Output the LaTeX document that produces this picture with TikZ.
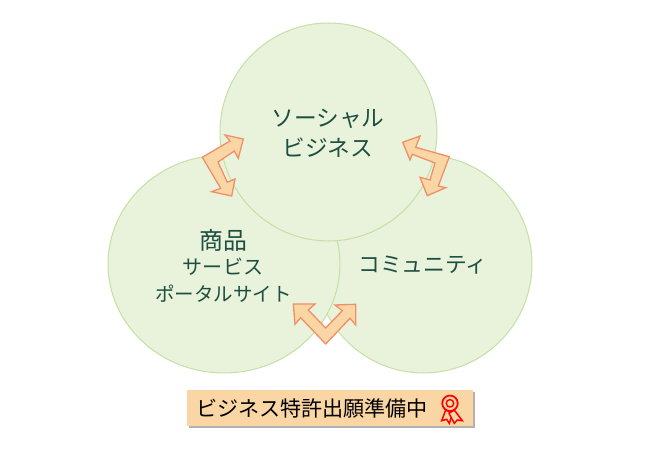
\documentclass[tikz,border=0pt]{standalone}
\usepackage{fontspec}
\setmainfont{Noto Sans CJK JP}
\usetikzlibrary{arrows, arrows.meta}
\usetikzlibrary{shapes.geometric}
\usetikzlibrary{shadows}
\definecolor{leaf}{HTML}{E9F3DB}
\definecolor{leafline}{HTML}{C6E0A8}
\definecolor{ink}{HTML}{1D4F40}
\definecolor{peach}{HTML}{FBD6A5}
\definecolor{peachline}{HTML}{F0906A}
\tikzset{
  topic/.style={ellipse, draw=leafline, fill=leaf, line width=0.6pt, inner sep=0pt},
  topictext/.style={text=ink, inner sep=0pt},
  bentarrow/.style={draw=peachline, fill=peach, line width=0.75pt, line join=miter},
  ribbon/.style={draw=red, line width=0.85pt, fill=peach},
}

\begin{document}
\begin{tikzpicture}[x=0.02cm, y=-0.02cm]
      \useasboundingbox (0,0) rectangle (647,449);

      \node[topic, minimum width=4.34cm, minimum height=4.36cm] (community) at (423.5,264) {};
      \node[topic, minimum width=4.64cm, minimum height=4.36cm] (goods) at (224,264) {};
      \node[topic, minimum width=4.34cm, minimum height=4.36cm] (social) at (328.5,132) {};

      \node[topictext, font=\fontsize{12.9}{15}\selectfont] (line1) at (328,119) {ソーシャル};
      \node[topictext, font=\fontsize{12.9}{15}\selectfont] (line2) at (328,147.5) {ビジネス};
      \node[topictext, font=\fontsize{13.6}{16}\selectfont] (line3) at (223,240) {商品};
      \node[topictext, font=\fontsize{11.4}{14}\selectfont] (line4) at (223,267) {サービス};
      \node[topictext, font=\fontsize{11.1}{14}\selectfont] (line5) at (223.5,294) {ポータルサイト};
      \node[topictext, font=\fontsize{12.4}{15}\selectfont] (line6) at (423,265) {コミュニティ};

      % left arrow
      \draw[bentarrow] (202.3,157.3) -- (230,141) -- (225,135) -- (243.3,139) -- (238.3,158.3) -- (234.3,151)
        -- (218,162) -- (227.3,182.3) -- (235,179) -- (231.7,196) -- (211.7,191.7) -- (220.7,188.3) -- cycle;
      % right arrow
      \draw[bentarrow] (449.3,156.7) -- (415.7,147.3) -- (420,136) -- (402.7,142.3) -- (410,160) -- (412.3,154.3)
        -- (435,163) -- (430,180) -- (420,177.3) -- (427.3,195.7) -- (445.7,187.7) -- (438.3,186) -- cycle;
      % bottom arrow
      \draw[bentarrow] (325.7,344) -- (300.7,317.7) -- (295,324.3) -- (293.3,304) -- (315,304) -- (308.3,310)
        -- (325.7,328) -- (342.3,310.7) -- (335,305) -- (355.7,304.3) -- (355.7,325) -- (350,318.3) -- cycle;

      \node[rectangle, fill=peach, minimum width=5.72cm, minimum height=0.72cm, inner sep=0pt,
        drop shadow={shadow xshift=1.2pt, shadow yshift=-1.4pt, fill=black, opacity=0.3}] (badge) at (330,408) {};
      \node[inner sep=0pt, font=\fontsize{12}{15}\selectfont] (badgetext) at (312,408) {ビジネス特許出願準備中};

      \draw[ribbon] (445.7,410) -- (441.7,420.7) -- (446.7,419.3) -- (449.3,423.3) -- (452.7,413.3) -- cycle;
      \draw[ribbon] (454.3,410) -- (462.3,420.7) -- (457.3,420) -- (454.3,423.3) -- (449,413.3) -- cycle;
      \node[circle, draw=red, fill=peach, line width=1pt, minimum size=0.31cm, inner sep=0pt] (rosette) at (450,403.3) {};
      \node[circle, draw=red, line width=0.8pt, minimum size=0.15cm, inner sep=0pt] (rosettecore) at (450,403.3) {};
    \end{tikzpicture}
\end{document}
